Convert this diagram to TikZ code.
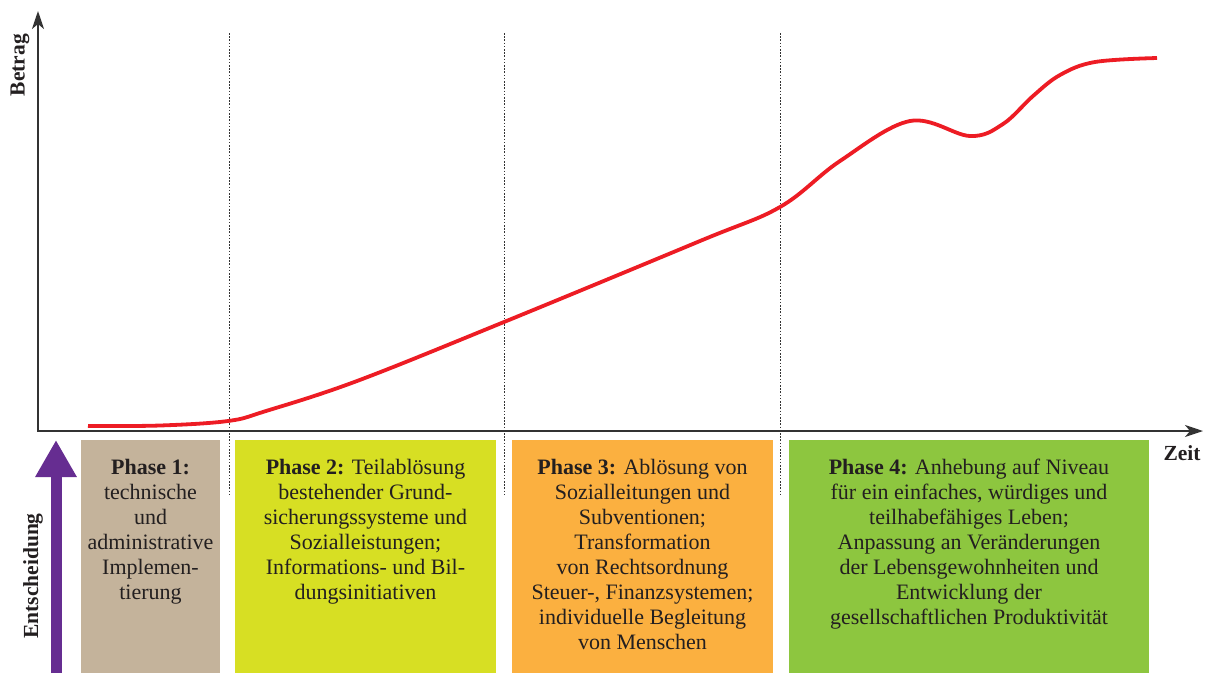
\documentclass[tikz,border=0pt]{standalone}
\usepackage{fontspec}
\setmainfont{Liberation Serif}
\usetikzlibrary{arrows.meta}
\definecolor{ptan}{HTML}{C4B39B}
\definecolor{plime}{HTML}{D7DF23}
\definecolor{porange}{HTML}{FBB040}
\definecolor{pgreen}{HTML}{8DC63F}
\definecolor{ppurple}{HTML}{662D91}
\definecolor{pred}{HTML}{ED1C24}
\definecolor{ptext}{HTML}{231F20}
\definecolor{paxis}{HTML}{333333}
\tikzset{
  axis/.style={line width=1.8pt, draw=paxis, -{Stealth[length=18pt,width=12pt,inset=5pt]}},
  sepline/.style={line width=0.9pt, draw=paxis, dash pattern=on 1.6pt off 1.6pt},
  phasebox/.style={draw=none, minimum height=233pt, anchor=north west, inner sep=0pt},
  phasetext/.style={anchor=north, align=center, inner sep=0pt, text=ptext, font=\fontsize{22}{25}\selectfont},
  axlabel/.style={font=\bfseries\fontsize{21.5}{24}\selectfont, text=ptext, inner sep=0pt},
}
\begin{document}
\begin{tikzpicture}[x=1pt,y=-1pt]
\useasboundingbox (0,0) rectangle (1206,673);
% boxes
\node[phasebox, fill=ptan, minimum width=139pt] (b1) at (81,440) {};
\node[phasebox, fill=plime, minimum width=261pt] (b2) at (235,440) {};
\node[phasebox, fill=porange, minimum width=261pt] (b3) at (512,440) {};
\node[phasebox, fill=pgreen, minimum width=360pt] (b4) at (789,440) {};
% separators
\coordinate (s1t) at (229,33); \coordinate (s1b) at (229,494);
\coordinate (s2t) at (504,33); \coordinate (s2b) at (504,494);
\coordinate (s3t) at (780,33); \coordinate (s3b) at (780,494);
\draw[sepline] (s1t) -- (s1b);
\draw[sepline] (s2t) -- (s2b);
\draw[sepline] (s3t) -- (s3b);
% axes
\coordinate (o) at (38,431);
\coordinate (ytip) at (38,11);
\coordinate (xtip) at (1203,431);
\draw[axis] (o) -- (ytip);
\draw[axis] (o) -- (xtip);
\draw[line width=1.8pt, draw=paxis] (37.1,431) -- (o);
\node[axlabel, rotate=90] (betrag) at (20,65) {Betrag};
\node[axlabel] (zeit) at (1182,453) {Zeit};
% curve
\draw[pred, line width=3.8pt]
  plot[smooth, tension=0.6] coordinates {(88,426) (160,425.5) (228,421) (266,411) (357,381) (504,322) (700,241) (780,207) (840,161) (910,121) (970,136) (1003,124) (1033,96) (1060,75) (1095,62) (1157,58)};
% decision arrow
\coordinate (dbot) at (56,673);
\coordinate (dtop) at (56,440);
\draw[ppurple, line width=11pt, -{Triangle[length=37pt,width=39pt]}] (dbot) -- (dtop);
\node[axlabel, rotate=90] (ent) at (33,576) {Entscheidung};
% texts
\node[phasetext] (t1) at (150.5,459) {\textbf{Phase 1:}\\technische\\und\\administrative\\Implemen-\\tierung};
\node[phasetext] (t2) at (365.5,459) {\textbf{Phase 2:} Teilablösung\\bestehender Grund-\\sicherungssysteme und\\Sozialleistungen;\\Informations- und Bil-\\dungsinitiativen};
\node[phasetext] (t3) at (642.5,459) {\textbf{Phase 3:} Ablösung von\\Sozialleitungen und\\Subventionen;\\Transformation\\von Rechtsordnung\\Steuer-, Finanzsystemen;\\individuelle Begleitung\\von Menschen};
\node[phasetext] (t4) at (969,459) {\textbf{Phase 4:} Anhebung auf Niveau\\für ein einfaches, würdiges und\\teilhabefähiges Leben;\\Anpassung an Veränderungen\\der Lebensgewohnheiten und\\Entwicklung der\\gesellschaftlichen Produktivität};
\end{tikzpicture}
\end{document}
